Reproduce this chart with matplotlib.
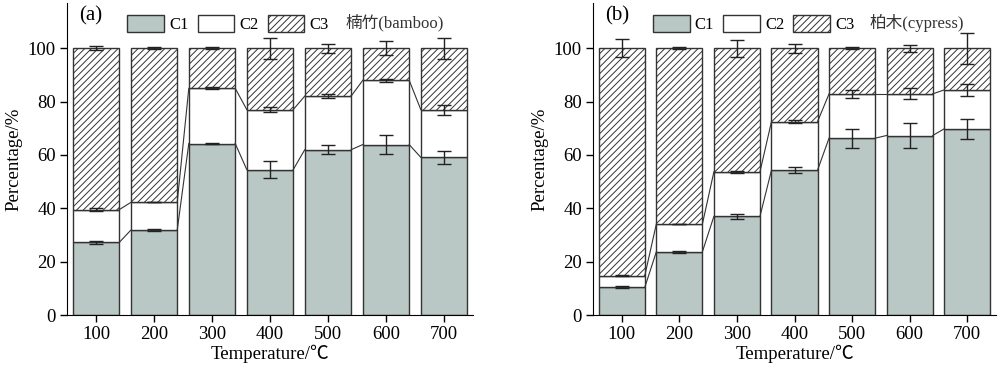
import matplotlib
matplotlib.use("Agg")
import matplotlib.pyplot as plt
from matplotlib.patches import Patch
import numpy as np

plt.rcParams['font.family'] = ['Liberation Serif', 'Noto Sans CJK SC']
plt.rcParams['hatch.color'] = '#555555'
plt.rcParams['hatch.linewidth'] = 0.7

temps = ['100', '200', '300', '400', '500', '600', '700']

# bamboo: cumulative tops of C1, C1+C2 and their errors
bamboo_c1 = [27.2, 31.8, 64.3, 54.5, 62.0, 63.9, 59.1]
bamboo_c12 = [39.5, 42.2, 85.0, 77.0, 82.1, 88.0, 77.0]
bamboo_c1_err = [0.4, 0.3, 0.3, 3.2, 1.7, 3.5, 2.4]
bamboo_c12_err = [0.5, 0.0, 0.3, 0.9, 0.7, 0.6, 1.9]
bamboo_top_err = [0.8, 0.3, 0.3, 4.0, 1.7, 2.6, 3.9]

# cypress
cypress_c1 = [10.4, 23.7, 37.0, 54.3, 66.3, 67.3, 69.8]
cypress_c12 = [14.8, 34.1, 53.7, 72.5, 82.9, 82.9, 84.4]
cypress_c1_err = [0.3, 0.3, 0.9, 1.1, 3.6, 4.7, 3.7]
cypress_c12_err = [0.2, 0.0, 0.3, 0.6, 1.4, 2.1, 2.2]
cypress_top_err = [3.4, 0.3, 3.2, 1.7, 0.3, 1.4, 5.9]

GREY = '#b9c7c5'
EDGE = '#333333'
FS = 13.5


def draw(ax, c1, c12, e1, e12, e3, label, name):
    x = np.arange(1, len(temps) + 1)
    w = 0.8
    c1 = np.array(c1)
    c12 = np.array(c12)
    ax.bar(x, c1, w, color=GREY, edgecolor=EDGE, linewidth=1)
    ax.bar(x, c12 - c1, w, bottom=c1, color='white', edgecolor=EDGE, linewidth=1)
    ax.bar(x, 100 - c12, w, bottom=c12, color='white', edgecolor=EDGE,
           linewidth=1, hatch='/////')
    # connector lines between neighbouring bars
    for tops in (c1, c12):
        for i in range(len(x) - 1):
            ax.plot([x[i] + w / 2, x[i + 1] - w / 2], [tops[i], tops[i + 1]],
                    color=EDGE, lw=0.8)
    for tops, err in ((c1, e1), (c12, e12), (np.full(len(x), 100.0), e3)):
        ax.errorbar(x, tops, yerr=err, fmt='none', ecolor='#222222',
                    elinewidth=1, capsize=5, capthick=1)

    ax.set_xlim(0.5, 7.5)
    ax.set_ylim(0, 117)
    ax.set_xticks(x)
    ax.set_xticklabels(temps)
    ax.set_yticks(range(0, 101, 20))
    ax.tick_params(labelsize=FS, direction='out', length=5, width=1, pad=3)
    ax.spines['top'].set_visible(False)
    ax.spines['right'].set_visible(False)
    ax.set_xlabel('Temperature/℃', fontsize=FS, labelpad=1)
    ax.set_ylabel('Percentage/%', fontsize=FS, labelpad=4)

    handles = [Patch(facecolor=GREY, edgecolor=EDGE, label='C1'),
               Patch(facecolor='white', edgecolor=EDGE, label='C2'),
               Patch(facecolor='white', edgecolor=EDGE, hatch='/////', label='C3')]
    ax.legend(handles=handles, loc='upper left', bbox_to_anchor=(0.12, 1.0),
              ncol=3, frameon=False, fontsize=12, handlelength=2.2,
              handleheight=1.2, handletextpad=0.3, columnspacing=0.55,
              borderaxespad=0.3)
    ax.text(0.03, 0.99, label, transform=ax.transAxes, fontsize=FS + 1.5,
            va='top', ha='left')
    ax.text(0.685, 0.965, name, transform=ax.transAxes, fontsize=12,
            va='top', ha='left', color='#333333')


fig = plt.figure(figsize=(10, 3.68), dpi=100)
ax1 = fig.add_axes([0.067, 0.144, 0.406, 0.848])
ax2 = fig.add_axes([0.593, 0.144, 0.403, 0.848])

draw(ax1, bamboo_c1, bamboo_c12, bamboo_c1_err, bamboo_c12_err, bamboo_top_err,
     '(a)', '楠竹(bamboo)')
draw(ax2, cypress_c1, cypress_c12, cypress_c1_err, cypress_c12_err, cypress_top_err,
     '(b)', '柏木(cypress)')

fig.savefig('out.png', dpi=100)
